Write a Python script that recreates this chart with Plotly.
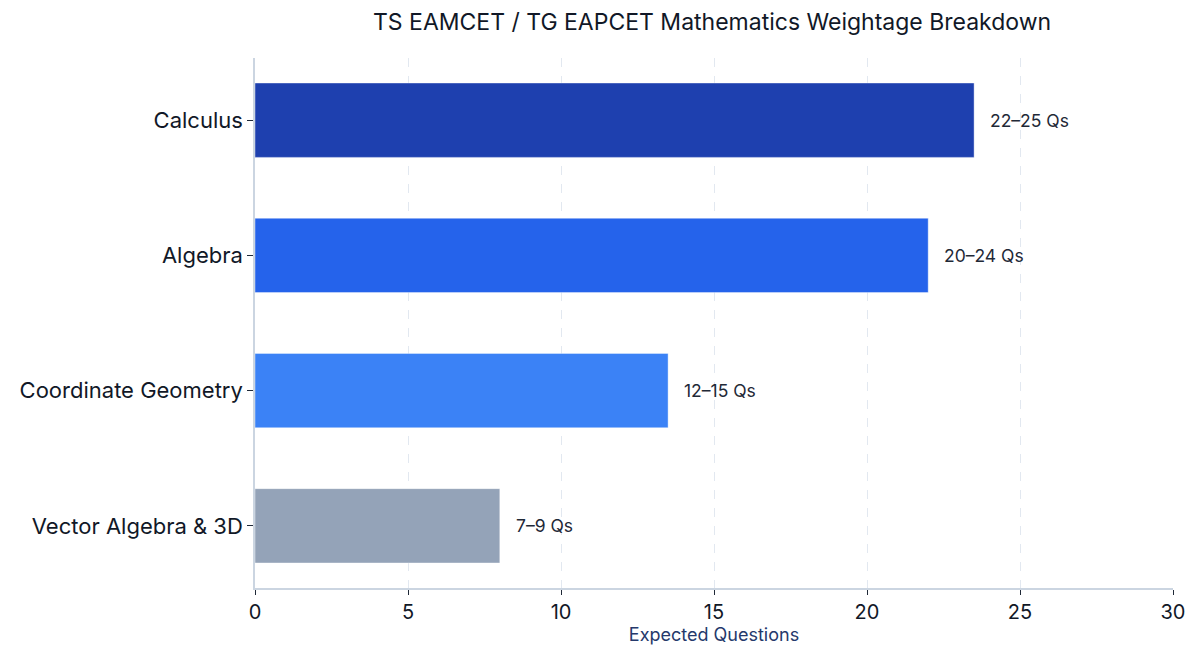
import plotly.graph_objects as go

topics = ["Calculus", "Algebra", "Coordinate Geometry", "Vector Algebra & 3D"]
questions = [23.5, 22, 13.5, 8]
labels = ["22–25 Qs", "20–24 Qs", "12–15 Qs", "7–9 Qs"]
colors = ["#1e40af", "#2563eb", "#3b82f6", "#94a3b8"]

FONT = "Inter, Roboto, sans-serif"

fig = go.Figure(
    go.Bar(
        x=questions,
        y=topics,
        orientation="h",
        marker=dict(color=colors, line=dict(color="rgba(255,255,255,0.4)", width=1)),
        hoverinfo="skip",
    )
)

for topic, val, lab in zip(topics, questions, labels):
    fig.add_annotation(
        x=val, y=topic, text=lab, showarrow=False,
        xanchor="left", xshift=14,
        font=dict(family=FONT, size=17.5, color="#1f2937"),
    )

fig.update_layout(
    width=1200,
    height=661,
    paper_bgcolor="white",
    plot_bgcolor="white",
    margin=dict(l=244, r=35, t=50, b=81),
    bargap=0.45,
    showlegend=False,
    title=dict(
        text="TS EAMCET / TG EAPCET Mathematics Weightage Breakdown",
        x=0.5867, xanchor="center", y=0.979, yanchor="middle",
        font=dict(family=FONT, size=23, color="#111827"),
    ),
    font=dict(family=FONT),
)

fig.update_xaxes(
    range=[0, 30],
    dtick=5,
    showgrid=True,
    gridcolor="#e2e8f0",
    griddash="dash",
    gridwidth=1,
    showline=True,
    linecolor="#cbd5e1",
    linewidth=1.5,
    ticks="outside",
    tickcolor="#1f2937",
    ticklen=5,
    tickfont=dict(family=FONT, size=20, color="#111827"),
    zeroline=False,
    title=dict(text="Expected Questions", font=dict(family=FONT, size=18, color="#25396b"), standoff=6),
)
fig.update_yaxes(
    categoryorder="array",
    categoryarray=topics[::-1],
    range=[-0.46, 3.46],
    showgrid=False,
    showline=True,
    linecolor="#cbd5e1",
    linewidth=1.5,
    ticks="outside",
    tickcolor="#1f2937",
    ticklen=6,
    tickfont=dict(family=FONT, size=22, color="#111827"),
)

fig.write_html("out.html")
